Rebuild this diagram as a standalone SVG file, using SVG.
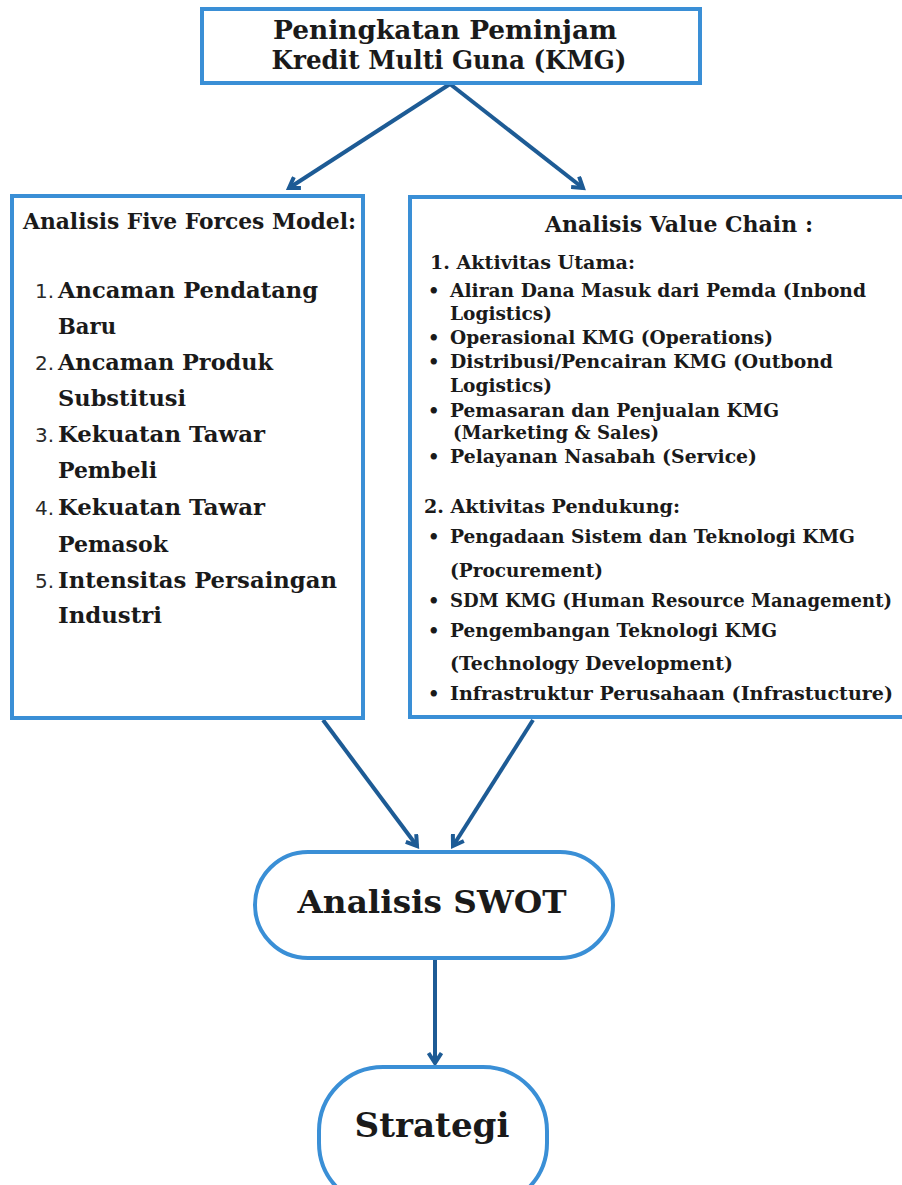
<svg xmlns="http://www.w3.org/2000/svg" width="902" height="1185" viewBox="0 0 902 1185">
<style>
.box{fill:#ffffff;stroke:#3a8fd6;stroke-width:4}
.con{stroke:#1d5b95;stroke-width:4;fill:none}
.t{font-family:"DejaVu Serif","Liberation Serif",serif;font-weight:bold;fill:#1a1a1a}
.h1{font-size:26px}
.h2{font-size:22px}
.it{font-size:22px}
.num{font-family:"DejaVu Sans","Liberation Sans",sans-serif;font-size:20px;fill:#2a2a2a}
.rs{font-size:18px}
.big{font-size:31px}
.big2{font-size:34px}
</style>
<defs>
<marker id="ah" markerUnits="userSpaceOnUse" viewBox="0 0 16 16" markerWidth="16" markerHeight="16" refX="12" refY="8" orient="auto">
<path d="M2,1.5 L12,8 L2,14.5" fill="none" stroke="#1d5b95" stroke-width="4" stroke-linejoin="miter"/>
</marker>
</defs>
<rect x="0" y="0" width="902" height="1185" fill="#ffffff"/>
<g id="connectors">
<line class="con" x1="450" y1="84" x2="289" y2="188" marker-end="url(#ah)"/>
<line class="con" x1="450" y1="84" x2="583" y2="188" marker-end="url(#ah)"/>
<line class="con" x1="323" y1="720" x2="417" y2="846" marker-end="url(#ah)"/>
<line class="con" x1="533" y1="720" x2="453" y2="846" marker-end="url(#ah)"/>
<line class="con" x1="435" y1="960" x2="435" y2="1063" marker-end="url(#ah)"/>
</g>
<g id="top">
<rect class="box" x="202" y="9" width="498" height="74"/>
<text class="t h1" x="445" y="39" text-anchor="middle" textLength="344" lengthAdjust="spacingAndGlyphs">Peningkatan Peminjam</text>
<text class="t h1" x="449" y="69" text-anchor="middle" textLength="355" lengthAdjust="spacingAndGlyphs">Kredit Multi Guna (KMG)</text>
</g>
<g id="five-forces">
<rect class="box" x="12" y="196" width="351" height="522"/>
<text class="t h2" x="23" y="229" textLength="333" lengthAdjust="spacingAndGlyphs">Analisis Five Forces Model:</text>
<text class="num" x="35" y="298">1.</text>
<text class="t it" x="58" y="298" textLength="260" lengthAdjust="spacingAndGlyphs">Ancaman Pendatang</text>
<text class="t it" x="58" y="334" textLength="58" lengthAdjust="spacingAndGlyphs">Baru</text>
<text class="num" x="35" y="370">2.</text>
<text class="t it" x="58" y="370" textLength="215" lengthAdjust="spacingAndGlyphs">Ancaman Produk</text>
<text class="t it" x="58" y="406" textLength="128" lengthAdjust="spacingAndGlyphs">Substitusi</text>
<text class="num" x="35" y="442">3.</text>
<text class="t it" x="58" y="442" textLength="207" lengthAdjust="spacingAndGlyphs">Kekuatan Tawar</text>
<text class="t it" x="58" y="478" textLength="99" lengthAdjust="spacingAndGlyphs">Pembeli</text>
<text class="num" x="35" y="515">4.</text>
<text class="t it" x="58" y="515" textLength="207" lengthAdjust="spacingAndGlyphs">Kekuatan Tawar</text>
<text class="t it" x="58" y="552" textLength="110" lengthAdjust="spacingAndGlyphs">Pemasok</text>
<text class="num" x="35" y="588">5.</text>
<text class="t it" x="58" y="588" textLength="279" lengthAdjust="spacingAndGlyphs">Intensitas Persaingan</text>
<text class="t it" x="58" y="623" textLength="104" lengthAdjust="spacingAndGlyphs">Industri</text>
</g>
<g id="value-chain">
<rect class="box" x="410" y="197" width="510" height="520"/>
<text class="t h2" x="545" y="232" textLength="268" lengthAdjust="spacingAndGlyphs">Analisis Value Chain :</text>
<text class="t rs" x="430" y="269" textLength="205" lengthAdjust="spacingAndGlyphs">1. Aktivitas Utama:</text>
<text class="t rs" x="428" y="297">•</text>
<text class="t rs" x="450" y="297" textLength="416" lengthAdjust="spacingAndGlyphs">Aliran Dana Masuk dari Pemda (Inbond</text>
<text class="t rs" x="450" y="320" textLength="102" lengthAdjust="spacingAndGlyphs">Logistics)</text>
<text class="t rs" x="428" y="344">•</text>
<text class="t rs" x="450" y="344" textLength="323" lengthAdjust="spacingAndGlyphs">Operasional KMG (Operations)</text>
<text class="t rs" x="428" y="368">•</text>
<text class="t rs" x="450" y="368" textLength="383" lengthAdjust="spacingAndGlyphs">Distribusi/Pencairan KMG (Outbond</text>
<text class="t rs" x="450" y="392" textLength="102" lengthAdjust="spacingAndGlyphs">Logistics)</text>
<text class="t rs" x="428" y="417">•</text>
<text class="t rs" x="450" y="417" textLength="329" lengthAdjust="spacingAndGlyphs">Pemasaran dan Penjualan KMG</text>
<text class="t rs" x="453" y="439" textLength="206" lengthAdjust="spacingAndGlyphs">(Marketing &amp; Sales)</text>
<text class="t rs" x="428" y="463">•</text>
<text class="t rs" x="450" y="463" textLength="307" lengthAdjust="spacingAndGlyphs">Pelayanan Nasabah (Service)</text>
<text class="t rs" x="424" y="513" textLength="256" lengthAdjust="spacingAndGlyphs">2. Aktivitas Pendukung:</text>
<text class="t rs" x="428" y="543">•</text>
<text class="t rs" x="450" y="543" textLength="405" lengthAdjust="spacingAndGlyphs">Pengadaan Sistem dan Teknologi KMG</text>
<text class="t rs" x="450" y="577" textLength="153" lengthAdjust="spacingAndGlyphs">(Procurement)</text>
<text class="t rs" x="428" y="607">•</text>
<text class="t rs" x="450" y="607" textLength="442" lengthAdjust="spacingAndGlyphs">SDM KMG (Human Resource Management)</text>
<text class="t rs" x="428" y="637">•</text>
<text class="t rs" x="450" y="637" textLength="327" lengthAdjust="spacingAndGlyphs">Pengembangan Teknologi KMG</text>
<text class="t rs" x="450" y="670" textLength="283" lengthAdjust="spacingAndGlyphs">(Technology Development)</text>
<text class="t rs" x="428" y="700">•</text>
<text class="t rs" x="450" y="700" textLength="443" lengthAdjust="spacingAndGlyphs">Infrastruktur Perusahaan (Infrastucture)</text>
</g>
<g id="swot">
<rect class="box" x="255" y="852" width="358" height="106" rx="53"/>
<text class="t big" x="432" y="913" text-anchor="middle" textLength="269" lengthAdjust="spacingAndGlyphs">Analisis SWOT</text>
</g>
<g id="strategi">
<rect class="box" x="319" y="1067" width="228" height="140" rx="64"/>
<text class="t big2" x="432" y="1137" text-anchor="middle" textLength="155" lengthAdjust="spacingAndGlyphs">Strategi</text>
</g>
</svg>
